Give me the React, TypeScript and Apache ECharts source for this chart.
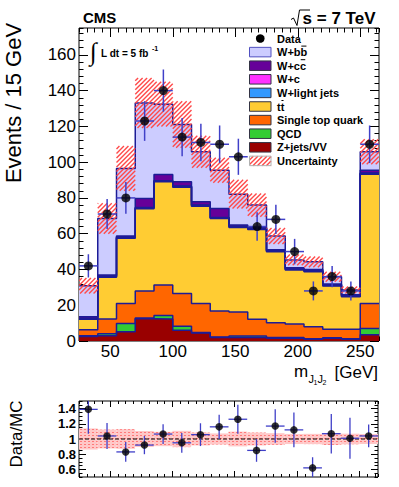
import React, { useEffect, useRef } from 'react';
import * as echarts from 'echarts';

// ---------- data ----------
const binEdges = [25, 40, 55, 70, 85, 100, 115, 130, 145, 160, 175, 190, 205, 220, 235, 250, 265];

const zJetsVV = [2.5, 3, 5.2, 12.5, 12.3, 6, 4.5, 2, 2, 2, 1.5, 1.5, 1, 1.5, 1, 3.5];
const qcd = [0.5, 1, 4.6, 0.3, 2, 2.3, 0.3, 0.3, 0.8, 0.8, 0.5, 0.5, 0.3, 0.3, 0.3, 3.5];
const singleTop = [3.3, 8.3, 11.2, 15.2, 17, 18.2, 16.2, 14.5, 13.4, 9.3, 8.2, 7.5, 6.7, 4.7, 5.2, 14];
const ttbar = [5.8, 23.3, 36.5, 46, 57.7, 59.5, 54.4, 51.7, 47.3, 50.3, 39.7, 30.2, 30.7, 24.2, 18.3, 72.3];
const wLight = [0.4, 0.4, 0.4, 0.4, 0.4, 0.4, 0.4, 0.4, 0.4, 0.4, 0.4, 0.4, 0.4, 0.4, 0.4, 0.4];
const wC = [0.2, 0.2, 0.2, 0.2, 0.2, 0.2, 0.2, 0.2, 0.2, 0.2, 0.2, 0.2, 0.2, 0.2, 0.2, 0.2];
const wCC = [0.9, 0.7, 0.6, 5.1, 3.5, 2.4, 1.8, 5, 0.7, 0.5, 0.5, 0.7, 0.7, 0.5, 0.4, 1.6];
const wBB = [17.3, 31.6, 37.8, 53.4, 39.3, 32, 28, 21.4, 17.3, 12.5, 7.7, 4.3, 4.3, 4.1, 2.7, 10.3];

const mcUnc = [4.3, 8.5, 12.5, 14, 12.5, 13, 9, 7, 8, 6.5, 4.5, 3, 3, 2.8, 2, 7];

const dataCounts = [42, 71, 80, 123, 140, 114, 111, 110, 103, 64, 68, 50, 28, 36, 28, 110];
const dataErr = [6.5, 8.4, 8.9, 11.1, 11.8, 10.7, 10.5, 10.5, 10.1, 8, 8.2, 7.1, 5.3, 6, 5.3, 10.5];

const ratioVals = [1.39, 1.04, 0.83, 0.92, 1.065, 0.95, 1.057, 1.16, 1.26, 0.85, 1.17, 1.12, 0.62, 1.07, 1.01, 1.04];
const ratioErr = [0.32, 0.17, 0.13, 0.12, 0.13, 0.13, 0.15, 0.16, 0.19, 0.15, 0.22, 0.23, 0.14, 0.26, 0.27, 0.15];

const xTickLabels = [50, 100, 150, 200, 250];
const yTickLabels = [0, 20, 40, 60, 80, 100, 120, 140, 160];
const ratioTickLabels = [0.6, 0.8, 1, 1.2, 1.4];

// stack order bottom -> top
const processLabels = ['Z+jets/VV', 'QCD', 'Single top quark', 'tt', 'W+light jets', 'W+c', 'W+cc', 'W+bb'];
const processColors = ['#990000', '#33cc33', '#ff6600', '#ffcc33', '#3399ff', '#ff33ff', '#660099', '#ccccff'];
const overlineIndex: Record<string, number> = { 'W+bb': 3, 'W+cc': 3, tt: 1 };

const FONT = '"Liberation Sans", Arial, Helvetica, sans-serif';
const OUTLINE = '#1c1c96';
const ERR = '#4040c8';
const HATCH_COLOR = '#ff4a4a';
const HATCH_STEP = 4.5;

// diagonal "///" hatch lines clipped to a rectangle (screen coordinates)
function hatchLines(x0: number, y0: number, w: number, h: number) {
  const x1 = x0 + w, y1 = y0 + h;
  const out: any[] = [];
  const cStart = Math.ceil((x0 + y0) / HATCH_STEP) * HATCH_STEP;
  for (let c = cStart; c <= x1 + y1; c += HATCH_STEP) {
    const xs = Math.max(x0, c - y1);
    const xe = Math.min(x1, c - y0);
    if (xe - xs > 0.05) {
      out.push({
        type: 'line', silent: true,
        shape: { x1: xs, y1: c - xs, x2: xe, y2: c - xe },
        style: { stroke: HATCH_COLOR, lineWidth: 1.4 },
      });
    }
  }
  return out;
}

function makeBandPattern() {
  const c = document.createElement('canvas');
  c.width = 4;
  c.height = 3;
  const g = c.getContext('2d')!;
  g.fillStyle = '#ffc8c8';
  g.fillRect(0, 0, 4, 3);
  g.fillStyle = '#ff7a7a';
  g.fillRect(0, 0, 2, 1);
  return { image: c, repeat: 'repeat', imageWidth: 4, imageHeight: 3 } as any;
}

function buildOption() {
  const nb = binEdges.length - 1;
  const layers = [zJetsVV, qcd, singleTop, ttbar, wLight, wC, wCC, wBB];
  const cum: number[][] = [];
  let run = new Array(nb).fill(0);
  layers.forEach((l) => {
    run = run.map((v: number, i: number) => v + l[i]);
    cum.push(run);
  });
  const total = cum[cum.length - 1];
  const centers = binEdges.slice(0, nb).map((e, i) => (e + binEdges[i + 1]) / 2);
  const stepData = (vals: number[]) => binEdges.map((e, i) => [e, vals[Math.min(i, nb - 1)]]);

  const bandPat = makeBandPattern();

  const tick = { color: '#000', width: 1 };
  const xAxes: any[] = [];
  const yAxes: any[] = [];
  [0, 1].forEach((g) => {
    ['bottom', 'top'].forEach((pos) => {
      xAxes.push({
        type: 'value', gridIndex: g, position: pos, min: 25, max: 265,
        axisLine: { show: false, onZero: false }, splitLine: { show: false },
        axisTick: { show: true, inside: true, length: g === 0 ? 9 : 6, customValues: xTickLabels, lineStyle: tick },
        axisLabel: {
          show: g === 0 && pos === 'bottom', customValues: xTickLabels, color: '#000',
          fontSize: 17, fontFamily: FONT, margin: 2,
        },
      });
      xAxes.push({
        type: 'value', gridIndex: g, position: pos, min: 25, max: 265, interval: 6.25,
        axisLine: { show: false, onZero: false }, splitLine: { show: false },
        axisTick: { show: true, inside: true, length: g === 0 ? 4.5 : 3, lineStyle: tick },
        axisLabel: { show: false },
      });
    });
    ['left', 'right'].forEach((pos) => {
      const major = g === 0 ? yTickLabels : ratioTickLabels;
      yAxes.push({
        type: 'value', gridIndex: g, position: pos,
        min: g === 0 ? 0 : 0.5, max: g === 0 ? 175 : 1.5,
        axisLine: { show: false, onZero: false }, splitLine: { show: false },
        axisTick: { show: true, inside: true, length: g === 0 ? 9 : 7, customValues: major, lineStyle: tick },
        axisLabel: {
          show: pos === 'left', customValues: major, color: '#000', margin: 3,
          fontSize: g === 0 ? 17 : 13, fontWeight: g === 0 ? 'normal' : 'bold', fontFamily: FONT,
          formatter: (v: number) => (g === 0 ? String(v) : v === 1 ? '1' : v.toFixed(1)),
        },
      });
      yAxes.push({
        type: 'value', gridIndex: g, position: pos,
        min: g === 0 ? 0 : 0.5, max: g === 0 ? 175 : 1.5, interval: g === 0 ? 4 : 0.05,
        axisLine: { show: false, onZero: false }, splitLine: { show: false },
        axisTick: { show: true, inside: true, length: g === 0 ? 4.5 : 3.5, lineStyle: tick },
        axisLabel: { show: false },
      });
    });
  });

  const series: any[] = [];
  // stacked histograms, drawn from the total down
  for (let k = layers.length - 1; k >= 0; k--) {
    series.push({
      type: 'line', name: processLabels[k], xAxisIndex: 0, yAxisIndex: 0, step: 'end',
      data: stepData(cum[k]), symbol: 'none', silent: true,
      lineStyle: { color: OUTLINE, width: 1.5 },
      itemStyle: { color: processColors[k] },
      areaStyle: { color: processColors[k], opacity: 1, origin: 'start' },
      z: 2,
    });
  }
  // uncertainty hatch
  series.push({
    type: 'custom', xAxisIndex: 0, yAxisIndex: 0, silent: true, z: 3, clip: true,
    itemStyle: { color: HATCH_COLOR },
    data: centers.map((_, i) => [binEdges[i], binEdges[i + 1], total[i] - mcUnc[i], total[i] + mcUnc[i]]),
    encode: { x: [0, 1], y: [2, 3] },
    renderItem: (_p: any, api: any) => {
      const a = api.coord([api.value(0), api.value(3)]);
      const b = api.coord([api.value(1), api.value(2)]);
      return { type: 'group', children: hatchLines(a[0], a[1], b[0] - a[0], b[1] - a[1]) };
    },
  });

  const errBars = (xi: number, yi: number, vals: number[], errs: number[], lw: number, z: number) => ({
    type: 'custom', xAxisIndex: xi, yAxisIndex: yi, silent: true, z, clip: true,
    data: centers.map((_, i) => [binEdges[i], binEdges[i + 1], vals[i], errs[i]]),
    encode: { x: [0, 1], y: 2 },
    renderItem: (_p: any, api: any) => {
      const x0 = api.value(0), x1 = api.value(1), y = api.value(2), e = api.value(3);
      const xm = (x0 + x1) / 2;
      const c = api.coord([xm, y]);
      const t = api.coord([xm, y + e]);
      const b = api.coord([xm, y - e]);
      const l = api.coord([x0, y]);
      const r = api.coord([x1, y]);
      return {
        type: 'group',
        children: [
          { type: 'line', shape: { x1: c[0], y1: t[1], x2: c[0], y2: b[1] }, style: { stroke: ERR, lineWidth: lw } },
          { type: 'line', shape: { x1: l[0], y1: c[1], x2: r[0], y2: c[1] }, style: { stroke: ERR, lineWidth: lw } },
        ],
      };
    },
  });

  series.push(errBars(0, 0, dataCounts, dataErr, 1.5, 4));
  series.push({
    type: 'scatter', xAxisIndex: 0, yAxisIndex: 0, symbolSize: 9, silent: true, z: 5,
    itemStyle: { color: '#000' },
    data: centers.map((c, i) => [c, dataCounts[i]]),
  });

  // ratio panel
  series.push({
    type: 'custom', xAxisIndex: 4, yAxisIndex: 4, silent: true, z: 2, clip: true,
    data: centers.map((_, i) => [binEdges[i], binEdges[i + 1], 1 - mcUnc[i] / total[i], 1 + mcUnc[i] / total[i]]),
    encode: { x: [0, 1], y: [2, 3] },
    renderItem: (_p: any, api: any) => {
      const a = api.coord([api.value(0), api.value(3)]);
      const b = api.coord([api.value(1), api.value(2)]);
      return { type: 'rect', shape: { x: a[0], y: a[1], width: b[0] - a[0], height: b[1] - a[1] }, style: { fill: bandPat } };
    },
  });
  series.push({
    type: 'line', xAxisIndex: 4, yAxisIndex: 4, silent: true, z: 3, symbol: 'none',
    data: [[25, 1], [265, 1]],
    lineStyle: { color: '#000', width: 1, type: [4, 2] },
  });
  series.push(errBars(4, 4, ratioVals, ratioErr, 1.3, 4));
  series.push({
    type: 'scatter', xAxisIndex: 4, yAxisIndex: 4, symbolSize: 7.5, silent: true, z: 5,
    itemStyle: { color: '#000' },
    data: centers.map((c, i) => [c, ratioVals[i]]),
  });

  // ---------- graphic texts & legend ----------
  const ctx = document.createElement('canvas').getContext('2d')!;
  const legendFont = `bold 11px ${FONT}`;
  ctx.font = legendFont;

  const txt = (x: number, y: number, text: string, font: string, align = 'left', extra: any = {}) => ({
    type: 'text', x, y, silent: true, ...extra,
    style: { text, font, fill: '#000', align, verticalAlign: 'middle', textAlign: align, textVerticalAlign: 'middle' },
  });

  const graphics: any[] = [];
  const legX = 249.5, legW = 21.5, legH = 9.5, legTextX = 277, legY0 = 38.5, legDy = 13.6;
  graphics.push({ type: 'circle', silent: true, shape: { cx: legX + legW / 2, cy: legY0, r: 4.3 }, style: { fill: '#000' } });
  graphics.push(txt(legTextX, legY0, 'Data', legendFont));
  const order = [7, 6, 5, 4, 3, 2, 1, 0];
  order.forEach((k, j) => {
    const cy = legY0 + (j + 1) * legDy;
    graphics.push({
      type: 'rect', silent: true,
      shape: { x: legX, y: cy - legH / 2, width: legW, height: legH },
      style: { fill: processColors[k], stroke: k === 7 ? '#5050c0' : '#333344', lineWidth: 1 },
    });
    const label = processLabels[k];
    graphics.push(txt(legTextX, cy, label, legendFont));
    const oi = overlineIndex[label];
    if (oi !== undefined) {
      const w0 = ctx.measureText(label.slice(0, oi)).width;
      const w1 = ctx.measureText(label.slice(0, oi + 1)).width;
      graphics.push({
        type: 'line', silent: true,
        shape: { x1: legTextX + w0 + 0.8, y1: cy - 6, x2: legTextX + w1 - 0.8, y2: cy - 6 },
        style: { stroke: '#000', lineWidth: 1 },
      });
    }
  });
  const uy = legY0 + 9 * legDy;
  graphics.push({ type: 'group', silent: true, children: hatchLines(legX, uy - legH / 2, legW, legH) });
  graphics.push({
    type: 'rect', silent: true,
    shape: { x: legX, y: uy - legH / 2, width: legW, height: legH },
    style: { fill: 'none', stroke: '#b0b0b0', lineWidth: 1 },
  });
  graphics.push(txt(legTextX, uy, 'Uncertainty', legendFont));

  // CMS / energy labels
  graphics.push(txt(83, 17.5, 'CMS', `bold 15px ${FONT}`));
  graphics.push(txt(375.5, 18, 's = 7 TeV', `bold 17px ${FONT}`, 'right'));
  graphics.push({
    type: 'polyline', silent: true,
    shape: { points: [[291, 19.5], [293.5, 18], [297, 25.5], [299.5, 10], [310, 10]] },
    style: { stroke: '#000', lineWidth: 1, fill: 'none' },
  });
  // luminosity
  graphics.push(txt(93.5, 51, '\u222B', `25px "Liberation Serif", "DejaVu Serif", serif`, 'center'));
  graphics.push(txt(101, 53.5, 'L dt = 5 fb', `bold 10px ${FONT}`));
  graphics.push(txt(152, 48.5, '-1', `bold 7px ${FONT}`));

  // axis titles
  graphics.push(txt(13.5, 103, 'Events / 15 GeV', `22px ${FONT}`, 'center', { rotation: Math.PI / 2 }));
  graphics.push(txt(16.5, 434, 'Data/MC', `17px ${FONT}`, 'center', { rotation: Math.PI / 2 }));
  graphics.push(txt(378, 372, '[GeV]', `17px ${FONT}`, 'right'));
  graphics.push(txt(294, 371.5, 'm', `17px ${FONT}`));
  graphics.push(txt(308.5, 378.5, 'J', `11px ${FONT}`));
  graphics.push(txt(313.5, 382.5, '1', `7px ${FONT}`));
  graphics.push(txt(317.5, 378.5, 'J', `11px ${FONT}`));
  graphics.push(txt(322.5, 382.5, '2', `7px ${FONT}`));

  return {
    animation: false,
    backgroundColor: '#fff',
    grid: [
      { left: 79, top: 28, width: 300, height: 313, show: true, borderColor: '#000', borderWidth: 1, backgroundColor: 'transparent' },
      { left: 79, top: 401, width: 299, height: 76, show: true, borderColor: '#000', borderWidth: 1, backgroundColor: 'transparent' },
    ],
    xAxis: xAxes,
    yAxis: yAxes,
    series,
    graphic: { elements: graphics },
  };
}

export default function App() {
  const ref = useRef<HTMLDivElement>(null);
  useEffect(() => {
    const chart = echarts.init(ref.current!, null, { renderer: 'svg' });
    chart.setOption(buildOption() as any);
    return () => chart.dispose();
  }, []);
  return <div ref={ref} style={{ position: 'absolute', left: 0, top: 0, width: 399, height: 487 }} />;
}
